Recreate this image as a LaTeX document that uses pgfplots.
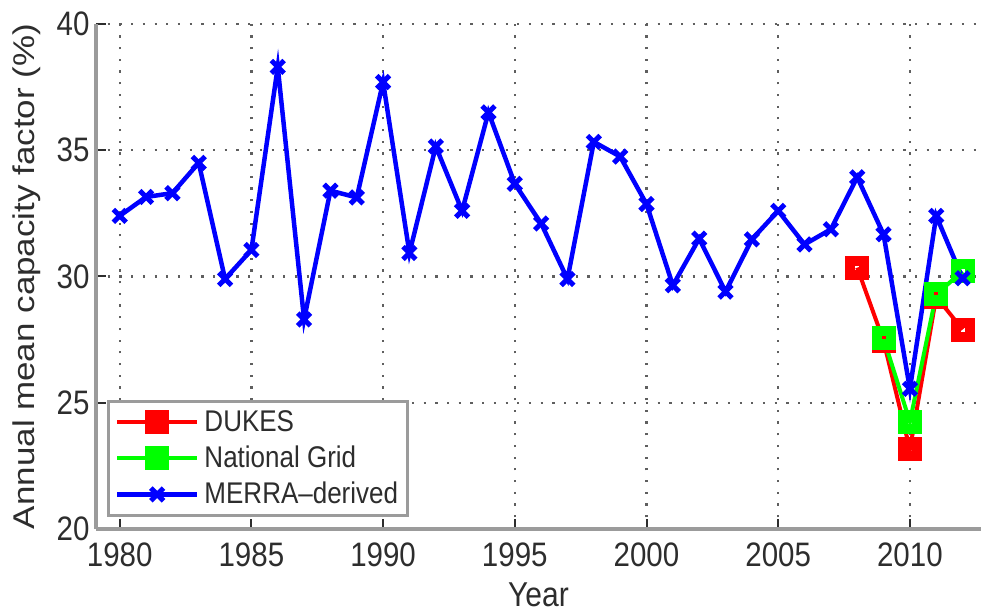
\documentclass[border=0pt]{standalone}
\usepackage{pgfplots}
\pgfplotsset{compat=1.18}
\usepackage{graphicx}
\usepackage{fontspec}
\setmainfont{Liberation Sans}

\definecolor{axgray}{RGB}{155,155,155}
\definecolor{txtgray}{RGB}{45,45,45}
\definecolor{gridgray}{RGB}{95,95,95}
\definecolor{mred}{RGB}{255,0,0}
\definecolor{mgreen}{RGB}{0,255,0}
\definecolor{mblue}{RGB}{0,0,255}

% slightly tall lettering
\newcommand{\tall}[1]{\scalebox{1}[1.15]{#1}}

\pgfplotstableread{
year cf
1980 32.4
1981 33.15
1982 33.3
1983 34.5
1984 29.9
1985 31.05
1986 38.3
1987 28.3
1988 33.4
1989 33.13
1990 37.7
1991 30.93
1992 35.15
1993 32.6
1994 36.5
1995 33.67
1996 32.1
1997 29.9
1998 35.33
1999 34.75
2000 32.87
2001 29.65
2002 31.5
2003 29.4
2004 31.47
2005 32.6
2006 31.27
2007 31.87
2008 33.93
2009 31.67
2010 25.55
2011 32.4
2012 29.93
}\merra

\pgfplotstableread{
year cf
2008 30.35
2009 27.45
2010 23.15
2011 29.2
2012 27.9
}\dukes

\pgfplotstableread{
year cf
2009 27.55
2010 24.25
2011 29.3
2012 30.2
}\natgrid

\begin{document}
\begin{tikzpicture}
\begin{axis}[
  scale only axis,
  width=885pt, height=505pt,
  xmin=1979.1, xmax=2012.7,
  ymin=20, ymax=40,
  axis x line*=bottom, axis y line*=left,
  axis line style={axgray, line width=3.5pt, -},
  xtick={1980,1985,...,2010},
  ytick={20,25,...,40},
  xticklabel={\tall{\pgfmathprintnumber[1000 sep=]{\tick}}},
  yticklabel={\tall{\pgfmathprintnumber{\tick}}},
  /pgf/number format/assume math mode=true,
  tick align=inside,
  major tick length=10pt,
  tick style={txtgray, line width=2pt},
  grid=major,
  major grid style={gridgray, line width=2.2pt, dash pattern=on 2.2pt off 9.5pt},
  ticklabel style={font=\fontsize{29.5}{34}\selectfont, text=txtgray},
  xticklabel style={anchor=center, yshift=-26pt},
  yticklabel style={anchor=east, xshift=-3pt},
  xlabel={\tall{Year}},
  ylabel={\scalebox{1.165}[1]{Annual mean capacity factor (\%)}},
  label style={font=\fontsize{30}{36}\selectfont, text=txtgray},
  xlabel style={at={(axis description cs:0.5,0)}, anchor=center, yshift=-66pt},
  ylabel style={at={(axis description cs:-0.078,0.5)}, anchor=center},
  clip=false,
  legend image code/.code={
    \draw[mark repeat=2, mark phase=2] plot coordinates {(0pt,0pt) (40pt,0pt) (80pt,0pt)};
  },
  legend style={
    at={(rel axis cs:0.0124,0.0238)}, anchor=south west,
    draw=axgray, line width=3pt, fill=white,
    inner sep=6.5pt, row sep=7pt, column sep=2pt,
    font=\fontsize{26}{31}\selectfont, text=txtgray,
    nodes={inner sep=3pt, text height=21pt, text depth=2pt},
  },
  legend cell align=left,
]
\addplot[mred, line width=4pt, mark=square,
  mark size=7pt, mark options={line width=10pt, solid}]
  table[x=year, y=cf] {\dukes};
\addlegendentry{\tall{DUKES}}
\addplot[mgreen, line width=4pt, mark=square,
  mark size=7pt, mark options={line width=10pt, solid}]
  table[x=year, y=cf] {\natgrid};
\addlegendentry{\tall{National Grid}}
\addplot[mblue, line width=4.5pt, mark=x,
  mark size=9pt, mark options={line width=5pt, solid}]
  table[x=year, y=cf] {\merra};
\addlegendentry{\tall{MERRA--derived}}
\end{axis}
\pgfresetboundingbox
\path (current axis.south west) ++(-96pt,-83pt) rectangle ++(981pt,612pt);
\end{tikzpicture}
\end{document}
